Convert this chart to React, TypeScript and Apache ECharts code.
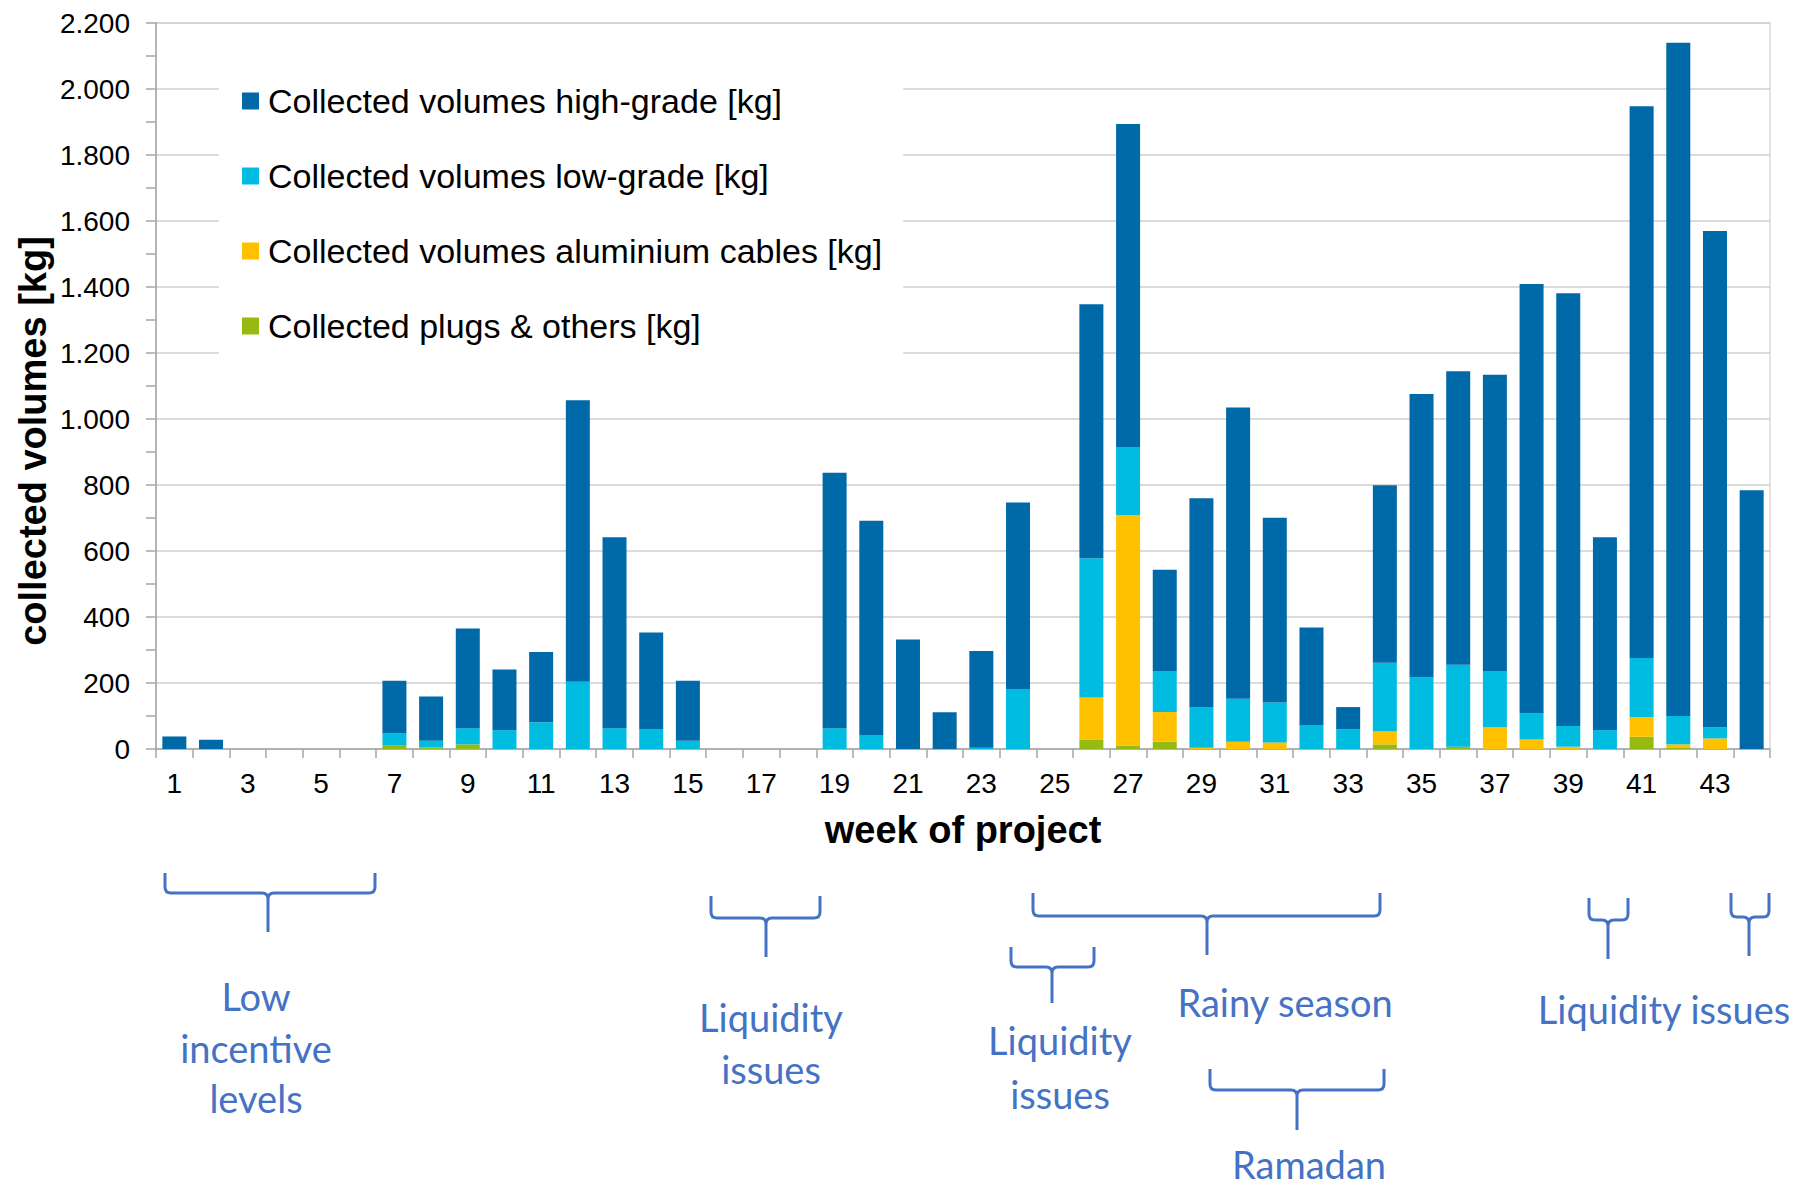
import React, { useEffect, useRef } from "react";
import * as echarts from "echarts";

const weeks: string[] = Array.from({ length: 44 }, (_, i) => String(i + 1));

const highGrade: number[] = [
  38, 28, 0, 0, 0, 0, 160, 134, 302, 184, 213, 853, 579, 293, 182, 0, 0, 0, 774, 651,
  332, 111, 293, 567, 0, 770, 979, 308, 633, 883, 560, 295, 67, 538, 859, 890, 899, 1300,
  1311, 585, 1672, 2040, 1504, 784,
];
const lowGrade: number[] = [
  0, 0, 0, 0, 0, 0, 37, 20, 49, 57, 81, 204, 63, 60, 25, 0, 0, 0, 63, 41,
  0, 0, 4, 180, 0, 422, 207, 123, 123, 130, 121, 73, 60, 207, 217, 248, 169, 80,
  63, 57, 179, 86, 34, 0,
];
const aluminium: number[] = [
  0, 0, 0, 0, 0, 0, 0, 0, 0, 0, 0, 0, 0, 0, 0, 0, 0, 0, 0, 0,
  0, 0, 0, 0, 0, 127, 698, 90, 4, 22, 20, 0, 0, 40, 0, 0, 66, 29,
  7, 0, 60, 11, 32, 0,
];
const plugs: number[] = [
  0, 0, 0, 0, 0, 0, 10, 5, 14, 0, 0, 0, 0, 0, 0, 0, 0, 0, 0, 0,
  0, 0, 0, 0, 0, 29, 10, 22, 0, 0, 0, 0, 0, 14, 0, 7, 0, 0,
  0, 0, 37, 3, 0, 0,
];

const seriesNames: string[] = [
  "Collected volumes high-grade [kg]",
  "Collected volumes low-grade [kg]",
  "Collected volumes aluminium cables [kg]",
  "Collected plugs & others [kg]",
];

const yTitle = "collected volumes [kg]";
const xTitle = "week of project";

const FONT = "'Liberation Sans', Arial, sans-serif";
const ANN_FONT = "Lato, 'Open Sans', sans-serif";
const ANN_COLOR = "#4472C4";

// brace annotations: [x1, x2, yTop, yMid, yBot, xc]
const braces: number[][] = [
  [165, 375, 873, 893, 932, 268],
  [711, 820, 896, 918, 957, 766],
  [1033, 1380, 893, 916, 955, 1207],
  [1011, 1094, 947, 967, 1003, 1052],
  [1210, 1384, 1069, 1090, 1130, 1297],
  [1589, 1628, 898, 920, 959, 1608],
  [1731, 1769, 893, 917, 956, 1749],
];

// annotation text lines: [text, centerX, baselineY]
const notes: [string, number, number][] = [
  ["Low", 256, 1009],
  ["incentive", 256, 1061],
  ["levels", 256, 1111],
  ["Liquidity", 771, 1030],
  ["issues", 771, 1082],
  ["Liquidity", 1060, 1053],
  ["issues", 1060, 1107],
  ["Rainy season", 1285, 1015],
  ["Ramadan", 1309, 1177],
  ["Liquidity issues", 1664, 1022],
];

function bracePath(b: number[]): string {
  const [x1, x2, yTop, yMid, yBot, xc] = b;
  const r = 6;
  return [
    `M ${x1} ${yTop}`,
    `L ${x1} ${yMid - r}`,
    `Q ${x1} ${yMid} ${x1 + r} ${yMid}`,
    `L ${xc - r} ${yMid}`,
    `Q ${xc} ${yMid} ${xc} ${yMid + r}`,
    `L ${xc} ${yBot}`,
    `M ${x2} ${yTop}`,
    `L ${x2} ${yMid - r}`,
    `Q ${x2} ${yMid} ${x2 - r} ${yMid}`,
    `L ${xc + r} ${yMid}`,
    `Q ${xc} ${yMid} ${xc} ${yMid + r}`,
  ].join(" ");
}

function fmt(v: number): string {
  if (v >= 1000) {
    const th = Math.floor(v / 1000);
    const rest = String(v % 1000).padStart(3, "0");
    return `${th}.${rest}`;
  }
  return String(v);
}

export default function App() {
  const ref = useRef<HTMLDivElement>(null);

  useEffect(() => {
    document.body.style.margin = "0";
    if (!ref.current) return;
    const chart = echarts.init(ref.current, undefined, { renderer: "svg" });

    braces.forEach((b, i) => {
      echarts.graphic.registerShape(`brace${i}`, echarts.graphic.extendPath(bracePath(b), {}));
    });

    const colors = ["#95BB12", "#FFC000", "#00BCE0", "#0069A7"];
    const stackData = [plugs, aluminium, lowGrade, highGrade];
    const stackNames = [seriesNames[3], seriesNames[2], seriesNames[1], seriesNames[0]];

    const graphics: any[] = [
      {
        type: "text",
        x: 33,
        y: 441,
        rotation: Math.PI / 2,
        style: {
          text: yTitle,
          fill: "#000",
          font: `bold 38px ${FONT}`,
          textAlign: "center",
          textVerticalAlign: "middle",
        },
      },
    ];
    braces.forEach((_, i) => {
      graphics.push({
        type: `brace${i}`,
        style: { fill: "none", stroke: ANN_COLOR, lineWidth: 3 },
      });
    });
    notes.forEach(([t, x, y]) => {
      graphics.push({
        type: "text",
        x,
        y: y - 13,
        style: {
          text: t,
          fill: ANN_COLOR,
          font: `38px ${ANN_FONT}`,
          lineHeight: 30,
          textAlign: "center",
          textVerticalAlign: "middle",
        },
      });
    });

    chart.setOption({
      animation: false,
      backgroundColor: "#fff",
      textStyle: { fontFamily: FONT },
      grid: {
        left: 156,
        right: 36,
        top: 23,
        bottom: 439,
        show: true,
        borderColor: "#D9D9D9",
        borderWidth: 1.5,
        containLabel: false,
        outerBoundsMode: "none",
      },
      legend: {
        orient: "vertical",
        left: 219,
        top: 60,
        padding: [23, 21, 40, 23],
        backgroundColor: "#fff",
        itemWidth: 17,
        itemHeight: 17,
        itemGap: 39,
        icon: "rect",
        data: seriesNames,
        textStyle: {
          fontSize: 34,
          lineHeight: 36,
          color: "#000",
          fontFamily: FONT,
          padding: [0, 0, 0, 4],
        },
        selectedMode: false,
      },
      xAxis: {
        type: "category",
        data: weeks,
        name: xTitle,
        nameLocation: "middle",
        nameGap: 62,
        nameTextStyle: { fontSize: 38, fontWeight: "bold", color: "#000", fontFamily: FONT },
        axisLine: { lineStyle: { color: "#A6A6A6", width: 1.5 } },
        axisTick: { show: true, interval: 0, length: 9, alignWithLabel: false, lineStyle: { color: "#A6A6A6", width: 1.5 } },
        axisLabel: { interval: 1, fontSize: 28, margin: 20, color: "#000", fontFamily: FONT },
        splitLine: { show: false },
      },
      yAxis: {
        type: "value",
        min: 0,
        max: 2200,
        interval: 200,
        axisLine: { show: true, lineStyle: { color: "#A6A6A6", width: 1.5 } },
        axisTick: { show: true, length: 10, lineStyle: { color: "#A6A6A6", width: 1.5 } },
        minorTick: { show: true, splitNumber: 2, length: 10, lineStyle: { color: "#A6A6A6", width: 1.5 } },
        axisLabel: { fontSize: 28, margin: 26, color: "#000", fontFamily: FONT, formatter: (v: number) => fmt(v) },
        splitLine: { show: true, lineStyle: { color: "#CFCFCF", width: 1.5 } },
      },
      series: stackData.map((d, i) => ({
        name: stackNames[i],
        type: "bar",
        stack: "total",
        barWidth: 24,
        data: d,
        itemStyle: { color: colors[i] },
      })),
      graphic: graphics,
    });

    return () => chart.dispose();
  }, []);

  return <div ref={ref} style={{ width: 1806, height: 1188 }} />;
}
